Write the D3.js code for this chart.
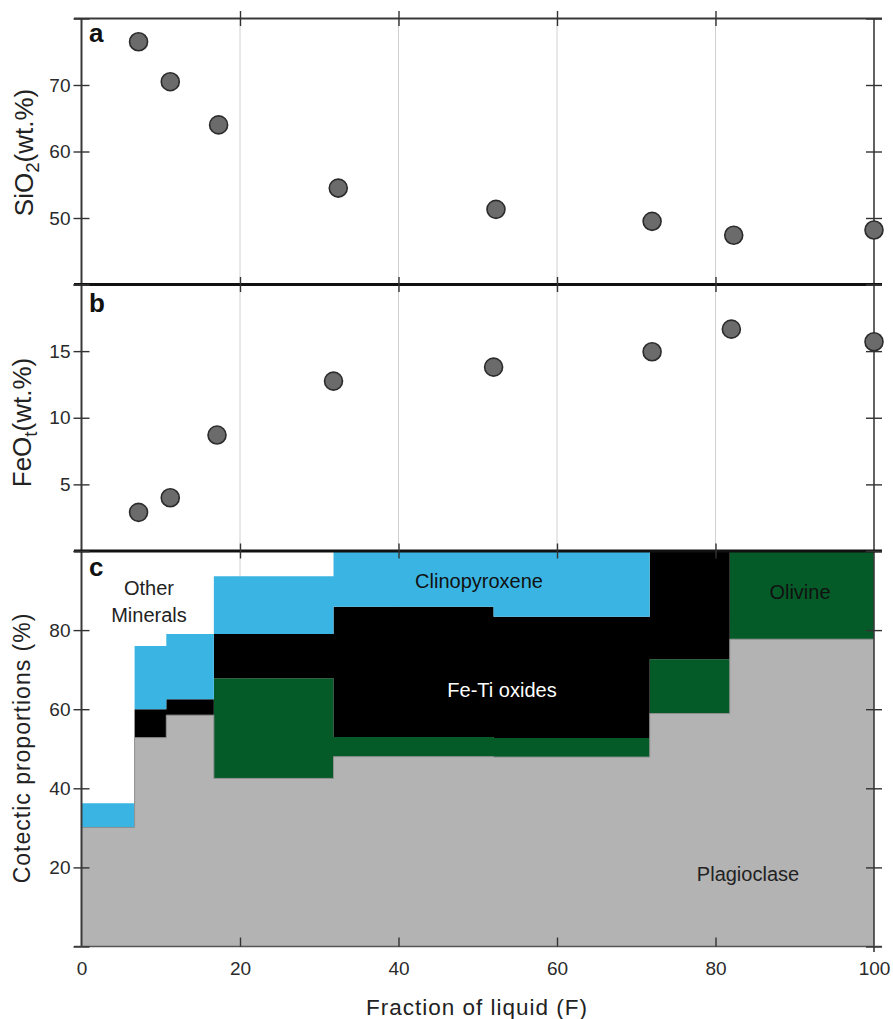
<!DOCTYPE html>
<html><head><meta charset="utf-8">
<script src="https://cdn.jsdelivr.net/npm/d3@7"></script>
<style>
body{margin:0;background:#fff}
svg{display:block}
text{font-family:"Liberation Sans",Arial,Helvetica,sans-serif}
</style>
</head><body>
<svg id="chart" width="893" height="1019"></svg>
<script>
// ---- data ----
const fracSiO2 = [7.2, 11.2, 17.3, 32.4, 52.3, 72.0, 82.3, 100];
const sio2     = [76.5, 70.5, 64.0, 54.5, 51.3, 49.5, 47.4, 48.2];
const fracFeO  = [7.2, 11.2, 17.1, 31.8, 52.0, 72.0, 82.0, 100];
const feot     = [2.9, 4.0, 8.7, 12.75, 13.8, 14.95, 16.65, 15.7];

// cotectic proportions, step segments in F
const segStart      = [0, 6.7, 10.7, 16.7, 31.8, 52.0, 71.7, 81.8];
const segEnd        = [6.7, 10.7, 16.7, 31.8, 52.0, 71.7, 81.8, 100];
const plagioclase   = [30.1, 52.8, 58.5, 42.5, 48.0, 47.9, 58.9, 77.7];
const olivine       = [0, 0, 0, 25.3, 5.0, 4.8, 13.7, 22.3];
const feTiOxides    = [0, 7.2, 4.0, 11.2, 32.9, 30.7, 27.4, 0];
const clinopyroxene = [6.1, 16.0, 16.5, 14.6, 14.1, 16.6, 0, 0];
const mineralKeys   = ["Plagioclase", "Olivine", "Fe-Ti oxides", "Clinopyroxene"];

const xTicks  = [0, 20, 40, 60, 80, 100];
const aTicks  = [40, 50, 60, 70, 80];
const aLabels = [50, 60, 70];
const bTicks  = [0, 5, 10, 15, 20];
const bLabels = [5, 10, 15];
const cTicks  = [0, 20, 40, 60, 80, 100];
const cLabels = [20, 40, 60, 80];

// ---- layout ----
const svg = d3.select("#chart");
const X0 = 81.5, X1 = 874;
const x  = d3.scaleLinear().domain([0, 100]).range([X0, X1]);
const ya = d3.scaleLinear().domain([40, 80]).range([284.5, 18.5]);
const yb = d3.scaleLinear().domain([0, 20]).range([551, 284.5]);
const yc = d3.scaleLinear().domain([0, 100]).range([946.5, 551]);

const colors = {
  "Plagioclase": "#b3b3b3",
  "Olivine": "#055b28",
  "Fe-Ti oxides": "#000000",
  "Clinopyroxene": "#3ab5e3"
};

// gridlines
const innerX = [20, 40, 60, 80];
svg.append("g").selectAll("line").data(innerX).join("line")
  .attr("x1", d => x(d)).attr("x2", d => x(d))
  .attr("y1", ya.range()[1]).attr("y2", yc.range()[0])
  .attr("stroke", "#d0d0d0").attr("stroke-width", 1);

// panel c stacked step areas
const rows = segStart.map((s, i) => ({
  f: s,
  "Plagioclase": plagioclase[i],
  "Olivine": olivine[i],
  "Fe-Ti oxides": feTiOxides[i],
  "Clinopyroxene": clinopyroxene[i]
}));
const last = segEnd.length - 1;
rows.push({
  f: segEnd[last],
  "Plagioclase": plagioclase[last],
  "Olivine": olivine[last],
  "Fe-Ti oxides": feTiOxides[last],
  "Clinopyroxene": clinopyroxene[last]
});
const stacked = d3.stack().keys(mineralKeys)(rows);
const area = d3.area()
  .x(d => x(d.data.f)).y0(d => yc(d[0])).y1(d => yc(d[1]))
  .curve(d3.curveStepAfter);
const gc = svg.append("g");
stacked.forEach(layer => {
  gc.append("path").datum(layer).attr("d", area).attr("fill", colors[layer.key]);
});
// thin outline on the plagioclase top
gc.append("path").datum(stacked[0])
  .attr("d", d3.line().x(d => x(d.data.f)).y(d => yc(d[1])).curve(d3.curveStepAfter))
  .attr("fill", "none").attr("stroke", "#8f8f8f").attr("stroke-width", 1);

// frame lines
function hline(y, color, w) {
  svg.append("line").attr("x1", 74).attr("x2", 882).attr("y1", y).attr("y2", y)
    .attr("stroke", color).attr("stroke-width", w);
}
svg.append("line").attr("x1", X0).attr("x2", X0).attr("y1", 18.5).attr("y2", 946.5)
  .attr("stroke", "#3a3a3a").attr("stroke-width", 2);
svg.append("line").attr("x1", X1).attr("x2", X1).attr("y1", 18.5).attr("y2", 952)
  .attr("stroke", "#3a3a3a").attr("stroke-width", 1.6);
hline(18.5, "#3a3a3a", 2);
hline(284.5, "#111", 3);
hline(551, "#111", 3);
hline(946.5, "#555", 1.6);

function styleAxis(g) {
  g.select(".domain").remove();
  g.selectAll(".tick line").attr("stroke", "#333").attr("stroke-width", 1.4);
  g.selectAll(".tick text").attr("fill", "#2a2a2a").style("font-size", "19px")
    .style("font-family", '"Liberation Sans", Arial, sans-serif');
}

function yAxes(y, ticks, labels) {
  svg.append("g").attr("transform", `translate(${X0},0)`)
    .call(d3.axisLeft(y).tickValues(ticks).tickSize(8).tickPadding(3)
      .tickFormat(d => labels.includes(d) ? d : ""))
    .call(styleAxis);
  svg.append("g").attr("transform", `translate(${X0},0)`)
    .call(d3.axisRight(y).tickValues(ticks).tickSize(8).tickFormat(""))
    .call(styleAxis);
  svg.append("g").attr("transform", `translate(${X1},0)`)
    .call(d3.axisRight(y).tickValues(ticks).tickSize(8).tickFormat(""))
    .call(styleAxis);
  svg.append("g").attr("transform", `translate(${X1},0)`)
    .call(d3.axisLeft(y).tickValues(ticks).tickSize(8).tickFormat(""))
    .call(styleAxis);
}
yAxes(ya, aTicks, aLabels);
yAxes(yb, bTicks, bLabels);
yAxes(yc, cTicks, cLabels);

// top-edge ticks on each panel
[18.5, 284.5, 551].forEach(yy => {
  svg.append("g").attr("transform", `translate(0,${yy})`)
    .call(d3.axisTop(x).tickValues(innerX).tickSize(7.5).tickFormat(""))
    .call(styleAxis);
  svg.append("g").attr("transform", `translate(0,${yy})`)
    .call(d3.axisBottom(x).tickValues(innerX).tickSize(7.5).tickFormat(""))
    .call(styleAxis);
});
// bottom axis: inward ticks + labels
svg.append("g").attr("transform", `translate(0,946.5)`)
  .call(d3.axisTop(x).tickValues(xTicks.slice(1, -1)).tickSize(9).tickFormat(""))
  .call(styleAxis);
svg.append("g").attr("transform", `translate(0,946.5)`)
  .call(d3.axisBottom(x).tickValues(xTicks).tickSize(0).tickPadding(15))
  .call(styleAxis);

// scatter points
function points(xs, ys, y) {
  svg.append("g").selectAll("circle").data(xs.map((f, i) => [f, ys[i]])).join("circle")
    .attr("cx", d => x(d[0])).attr("cy", d => y(d[1])).attr("r", 9)
    .attr("fill", "#6b6b6b").attr("stroke", "#2b2b2b").attr("stroke-width", 1.6);
}
points(fracSiO2, sio2, ya);
points(fracFeO, feot, yb);

// panel letters
[["a", 41.5], ["b", 311.5], ["c", 575.5]].forEach(([t, yy]) => {
  svg.append("text").attr("x", 89).attr("y", yy).text(t)
    .style("font-size", "26px").style("font-weight", "bold").attr("fill", "#111");
});

// mineral labels
function label(t, xx, yy, fill) {
  svg.append("text").attr("x", xx).attr("y", yy).attr("text-anchor", "middle")
    .style("font-size", "20px").attr("fill", fill).text(t);
}
label("Other", 149, 595, "#222");
label("Minerals", 149, 621.5, "#222");
label("Clinopyroxene", 479, 588, "#111");
label("Fe-Ti oxides", 502, 697, "#fff");
label("Olivine", 800, 599, "#111");
label("Plagioclase", 748, 880.5, "#222");

// axis titles
function ytitle(xx, yy, size, parts, spacing) {
  const t = svg.append("text").attr("transform", `translate(${xx},${yy}) rotate(-90)`)
    .attr("text-anchor", "middle").style("font-size", size + "px")
    .style("letter-spacing", spacing + "px").attr("fill", "#222");
  parts.forEach(p => {
    const ts = t.append("tspan").text(p.t);
    if (p.sub) ts.style("font-size", (size * 0.72) + "px").attr("dy", 6);
    if (p.after) ts.attr("dy", -6);
  });
}
ytitle(33, 152.5, 26, [{t: "SiO"}, {t: "2", sub: true}, {t: "(wt.%)", after: true}], 0);
ytitle(31, 422.5, 26, [{t: "FeO"}, {t: "t", sub: true}, {t: "(wt.%)", after: true}], 0);
ytitle(29.5, 748, 23, [{t: "Cotectic proportions (%)"}], 1);

svg.append("text").attr("x", 477).attr("y", 1014.5).attr("text-anchor", "middle")
  .style("font-size", "22.5px").style("letter-spacing", "1px").attr("fill", "#222")
  .text("Fraction of liquid (F)");
</script>
</body></html>
